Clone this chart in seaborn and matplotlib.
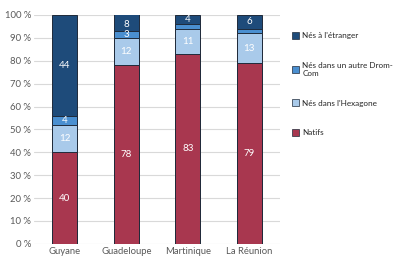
import matplotlib
matplotlib.use("Agg")
import matplotlib.pyplot as plt
import matplotlib.patches as mpatches
import numpy as np
import pandas as pd
import seaborn as sns

regions = ["Guyane", "Guadeloupe", "Martinique", "La Réunion"]
natifs = [40, 78, 83, 79]
hexagone = [12, 12, 11, 13]
autre_drom = [4, 3, 2, 2]
etranger = [44, 8, 4, 6]

series_names = ["Natifs", "Nés dans l'Hexagone", "Nés dans un autre Drom-Com", "Nés à l'étranger"]
series_values = [natifs, hexagone, autre_drom, etranger]
colors = ["#A8374F", "#A9CAEA", "#4A8FD0", "#1E4B7A"]
legend_labels = ["Nés à l'étranger", "Nés dans un autre Drom-\nCom", "Nés dans l'Hexagone", "Natifs"]

sns.set_theme(style="white")
plt.rcParams["font.family"] = ["Lato", "DejaVu Sans"]

df = pd.DataFrame({"region": regions})
cum = np.zeros(len(regions))
cums = []
for vals in series_values:
    cum = cum + np.array(vals)
    cums.append(cum.copy())

fig = plt.figure(figsize=(4.01, 2.57), dpi=100)
ax = fig.add_axes([0.085, 0.051, 0.613, 0.891])

# draw cumulative totals from the top series down so each segment shows
for name, c, color in reversed(list(zip(series_names, cums, colors))):
    d = df.assign(total=c)
    sns.barplot(data=d, x="region", y="total", color=color, width=0.41,
                edgecolor="#1f2a3a", linewidth=0.7, ax=ax, saturation=1)

# segment labels (small segments stay unlabeled)
bottom = np.zeros(len(regions))
for vals in series_values:
    for i, v in enumerate(vals):
        if v >= 3:
            top = min(bottom[i] + v, 100)
            ax.text(i, top - v / 2, str(v), ha="center", va="center",
                    color="white", fontsize=7)
    bottom = bottom + np.array(vals)

ax.set_ylim(0, 100)
ax.set_xlim(-0.5, len(regions) - 0.5)
ax.set_yticks(range(0, 101, 10))
ax.set_yticklabels([f"{t} %" for t in range(0, 101, 10)])
ax.tick_params(axis="both", labelsize=6.8, colors="#595959", length=0, pad=2)
ax.set_xlabel("")
ax.set_ylabel("")
ax.yaxis.grid(True, color="#d9d9d9", linewidth=0.8)
ax.set_axisbelow(True)
for s in ax.spines.values():
    s.set_visible(False)

handles = [mpatches.Patch(facecolor=col, edgecolor="#1f2a3a", linewidth=0.5)
           for col in reversed(colors)]
fig.legend(handles, legend_labels, loc="upper left", bbox_to_anchor=(0.71, 0.905),
           frameon=False, fontsize=5.9, handlelength=0.9, handleheight=0.9,
           handletextpad=0.35, labelspacing=2.75, labelcolor="#262626")

fig.savefig("out.png", dpi=100)
